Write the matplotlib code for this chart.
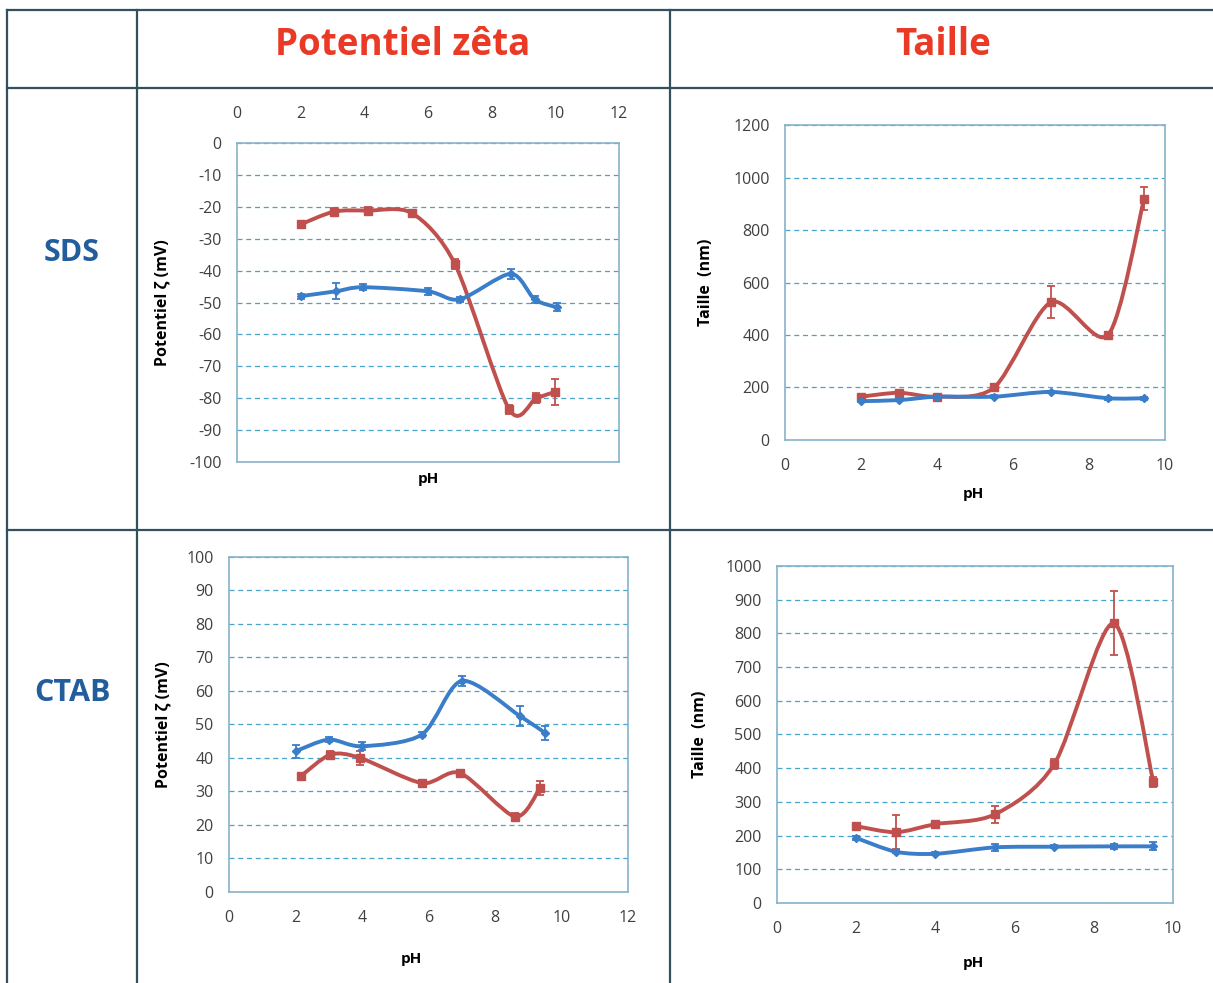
import matplotlib.pyplot as plt
from matplotlib.path import Path
from matplotlib.patches import PathPatch
from matplotlib.lines import Line2D

# SDS - potentiel zeta
sds_z_red_x = [2.0, 3.05, 4.1, 5.5, 6.85, 8.55, 9.4, 10.0]
sds_z_red_y = [-25.5, -21.5, -21.2, -22.0, -38.0, -83.5, -80.0, -78.0]
sds_z_red_e = [0.8, 1.0, 1.0, 0.8, 1.5, 1.5, 1.5, 4.0]
sds_z_blue_x = [2.0, 3.1, 3.95, 6.0, 7.0, 8.6, 9.35, 10.05]
sds_z_blue_y = [-48.0, -46.5, -45.2, -46.5, -49.0, -41.0, -49.0, -51.5]
sds_z_blue_e = [0.8, 2.5, 1.0, 1.0, 0.8, 1.5, 1.0, 1.2]

# SDS - taille
sds_t_x = [2.0, 3.0, 4.0, 5.5, 7.0, 8.5, 9.45]
sds_t_red_y = [165, 180, 165, 200, 525, 400, 920]
sds_t_red_e = [10, 10, 8, 10, 60, 10, 45]
sds_t_blue_y = [148, 152, 165, 165, 183, 159, 159]
sds_t_blue_e = [5, 5, 5, 5, 5, 5, 5]

# CTAB - potentiel zeta
ctab_z_blue_x = [2.0, 3.0, 4.0, 5.8, 7.0, 8.75, 9.5]
ctab_z_blue_y = [42.0, 45.5, 43.5, 47.0, 63.0, 52.5, 47.5]
ctab_z_blue_e = [2.0, 0.8, 1.2, 0.8, 1.5, 3.0, 2.0]
ctab_z_red_x = [2.15, 3.05, 3.95, 5.8, 6.95, 8.6, 9.35]
ctab_z_red_y = [34.5, 41.0, 40.0, 32.5, 35.5, 22.5, 31.0]
ctab_z_red_e = [0.8, 1.0, 2.0, 1.0, 1.0, 1.0, 2.0]

# CTAB - taille
ctab_t_x = [2.0, 3.0, 4.0, 5.5, 7.0, 8.5, 9.5]
ctab_t_red_y = [228, 210, 234, 263, 412, 830, 360]
ctab_t_red_e = [8, 50, 8, 25, 15, 95, 15]
ctab_t_blue_y = [193, 152, 146, 165, 167, 168, 168]
ctab_t_blue_e = [5, 5, 5, 10, 4, 8, 12]

RED = '#c0504d'
BLUE = '#3a7dc9'
FRAME = '#86b3c9'
GRID = '#4aa3c8'
TXT = '#404040'

plt.rcParams['font.family'] = ['Open Sans', 'DejaVu Sans']
plt.rcParams['axes.unicode_minus'] = False


def smooth(ax, xs, ys, color):
    # excel-like smoothed line: bezier through the points
    n = len(xs)
    pts = list(zip(xs, ys))
    verts = [pts[0]]
    codes = [Path.MOVETO]
    t = 0.14
    for i in range(n - 1):
        p0 = pts[i - 1] if i > 0 else pts[i]
        p1 = pts[i]
        p2 = pts[i + 1]
        p3 = pts[i + 2] if i + 2 < n else pts[i + 1]
        c1 = (p1[0] + (p2[0] - p0[0]) * t, p1[1] + (p2[1] - p0[1]) * t)
        c2 = (p2[0] - (p3[0] - p1[0]) * t, p2[1] - (p3[1] - p1[1]) * t)
        verts += [c1, c2, p2]
        codes += [Path.CURVE4] * 3
    ax.add_patch(PathPatch(Path(verts, codes), fill=False, edgecolor=color,
                           lw=2.8, zorder=3, capstyle='round'))


def series(ax, xs, ys, es, color, marker, ms):
    smooth(ax, xs, ys, color)
    ax.errorbar(xs, ys, yerr=es, fmt='none', ecolor=color, elinewidth=1.3,
                capsize=3, capthick=1.3, zorder=4)
    ax.plot(xs, ys, linestyle='none', marker=marker, color=color, ms=ms, zorder=5)


def style(ax, ylim, ystep, xlim, xstep, ylabel, ylx, xpad):
    ax.set_ylim(*ylim)
    ax.set_xlim(*xlim)
    ax.set_yticks(range(ylim[0], ylim[1] + 1, ystep))
    ax.set_xticks(range(xlim[0], xlim[1] + 1, xstep))
    for s in ax.spines.values():
        s.set_color(FRAME)
        s.set_linewidth(1.2)
    ax.grid(axis='y', linestyle=(0, (4, 3)), color=GRID, lw=0.9)
    ax.tick_params(length=0, labelsize=11.5, labelcolor=TXT)
    ax.tick_params(axis='y', pad=11)
    ax.tick_params(axis='x', pad=xpad)
    ax.set_ylabel(ylabel, fontsize=11.5, fontweight='bold', color='black')
    ax.yaxis.set_label_coords(ylx, 0.5)
    ax.set_axisbelow(True)


fig = plt.figure(figsize=(12.13, 9.83), dpi=100)

ax1 = fig.add_axes([0.1954, 0.530, 0.3149, 0.3245])
series(ax1, sds_z_red_x, sds_z_red_y, sds_z_red_e, RED, 's', 6)
series(ax1, sds_z_blue_x, sds_z_blue_y, sds_z_blue_e, BLUE, 'D', 4.5)
style(ax1, (-100, 0), 10, (0, 12), 2, 'Potentiel ζ (mV)', -0.173, 15)
ax1.xaxis.tick_top()
ax1.set_xlabel('pH', fontsize=11, fontweight='bold')
ax1.xaxis.set_label_position('bottom')
ax1.xaxis.set_label_coords(0.5, -0.03)

ax2 = fig.add_axes([0.6472, 0.5524, 0.3133, 0.3204])
series(ax2, sds_t_x, sds_t_red_y, sds_t_red_e, RED, 's', 6)
series(ax2, sds_t_x, sds_t_blue_y, sds_t_blue_e, BLUE, 'D', 4.5)
style(ax2, (0, 1200), 200, (0, 10), 2, 'Taille  (nm)', -0.187, 13)
ax2.set_xlabel('pH', fontsize=11, fontweight='bold')
ax2.xaxis.set_label_coords(0.495, -0.15)

ax3 = fig.add_axes([0.1888, 0.0926, 0.329, 0.3408])
series(ax3, ctab_z_red_x, ctab_z_red_y, ctab_z_red_e, RED, 's', 6)
series(ax3, ctab_z_blue_x, ctab_z_blue_y, ctab_z_blue_e, BLUE, 'D', 4.5)
style(ax3, (0, 100), 10, (0, 12), 2, 'Potentiel ζ (mV)', -0.145, 13)
ax3.set_xlabel('pH', fontsize=11, fontweight='bold')
ax3.xaxis.set_label_coords(0.456, -0.18)

ax4 = fig.add_axes([0.6406, 0.0814, 0.3265, 0.3428])
series(ax4, ctab_t_x, ctab_t_red_y, ctab_t_red_e, RED, 's', 6)
series(ax4, ctab_t_x, ctab_t_blue_y, ctab_t_blue_e, BLUE, 'D', 4.5)
style(ax4, (0, 1000), 100, (0, 10), 2, 'Taille  (nm)', -0.174, 13)
ax4.set_xlabel('pH', fontsize=11, fontweight='bold')
ax4.xaxis.set_label_coords(0.495, -0.158)

# table lines
W, H = 1213, 983
lc = '#34505c'
for x in (7, 137, 670):
    fig.add_artist(Line2D([x / W, x / W], [1 - 10 / H, 0], color=lc, lw=1.6))
for y in (10, 88, 530):
    fig.add_artist(Line2D([7 / W, 1], [1 - y / H, 1 - y / H], color=lc, lw=1.6))

fig.text(403 / W, 1 - 45 / H, 'Potentiel zêta', color='#ea3a26', fontsize=26.5,
         fontweight='bold', ha='center', va='center')
fig.text(943 / W, 1 - 45 / H, 'Taille', color='#ea3a26', fontsize=26.5,
         fontweight='bold', ha='center', va='center')
fig.text(72 / W, 1 - 253 / H, 'SDS', color='#225d9c', fontsize=22,
         fontweight='bold', ha='center', va='center')
fig.text(72 / W, 1 - 693 / H, 'CTAB', color='#225d9c', fontsize=22,
         fontweight='bold', ha='center', va='center')

fig.savefig('out.png', dpi=100)
